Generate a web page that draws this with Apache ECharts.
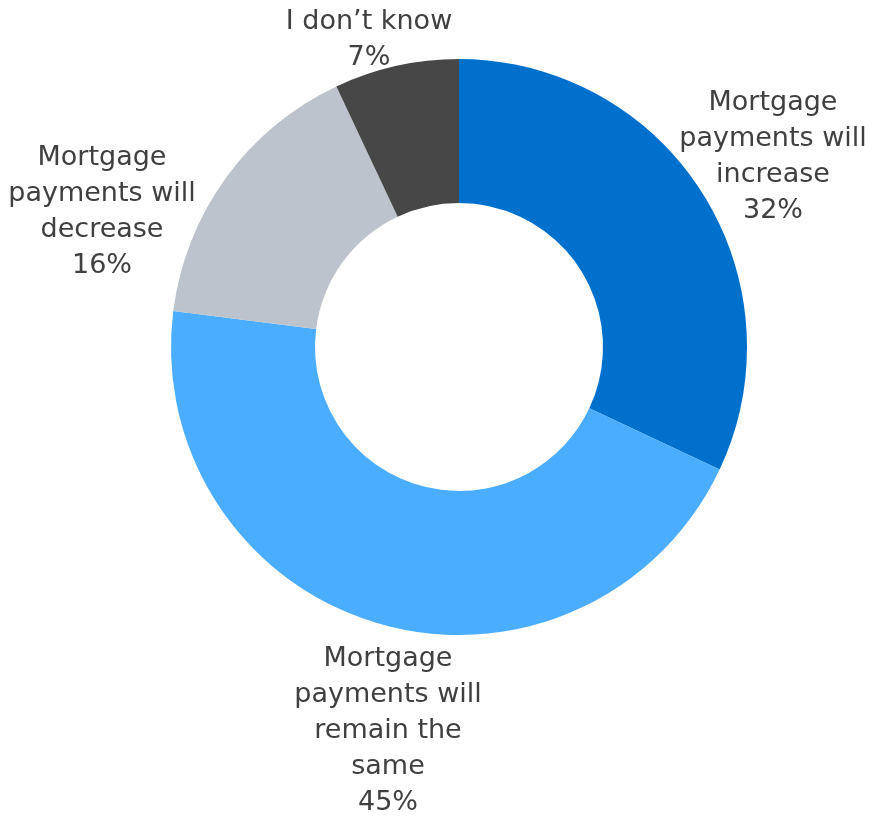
<!DOCTYPE html>
<html>
<head>
<meta charset="utf-8">
<script src="https://cdn.jsdelivr.net/npm/echarts@6/dist/echarts.min.js"></script>
<style>
  html, body { margin: 0; padding: 0; background: #ffffff; }
  #chart { width: 892px; height: 817px; }
</style>
</head>
<body>
<div id="chart"></div>
<script>
// Survey answers, clockwise from 12 o'clock
const categories = [
  'Mortgage\npayments will\nincrease',
  'Mortgage\npayments will\nremain the\nsame',
  'Mortgage\npayments will\ndecrease',
  'I don\u2019t know'
];
const shares = [32, 45, 16, 7];

const sliceColors = ['#0070CD', '#4AADFF', '#BDC3CC', '#474747'];
// Label anchor points (centre of each text block)
const labelAnchors = [[773, 157], [388, 731], [102, 212], [369, 40]];

const chart = echarts.init(document.getElementById('chart'));
chart.setOption({
  animation: false,
  series: [{
    type: 'pie',
    center: [459, 347],
    radius: [144, 288],
    startAngle: 90,
    clockwise: true,
    avoidLabelOverlap: false,
    data: categories.map((name, i) => ({
      name: name,
      value: shares[i],
      itemStyle: { color: sliceColors[i] }
    })),
    label: {
      show: true,
      position: 'outside',
      formatter: '{b}\n{c}%',
      fontFamily: 'DejaVu Sans, sans-serif',
      fontSize: 27,
      lineHeight: 36,
      color: '#404040',
      align: 'center'
    },
    labelLine: { show: false },
    labelLayout: function (params) {
      const p = labelAnchors[params.dataIndex];
      return { x: p[0], y: p[1], align: 'center', verticalAlign: 'middle' };
    }
  }]
});
</script>
</body>
</html>
